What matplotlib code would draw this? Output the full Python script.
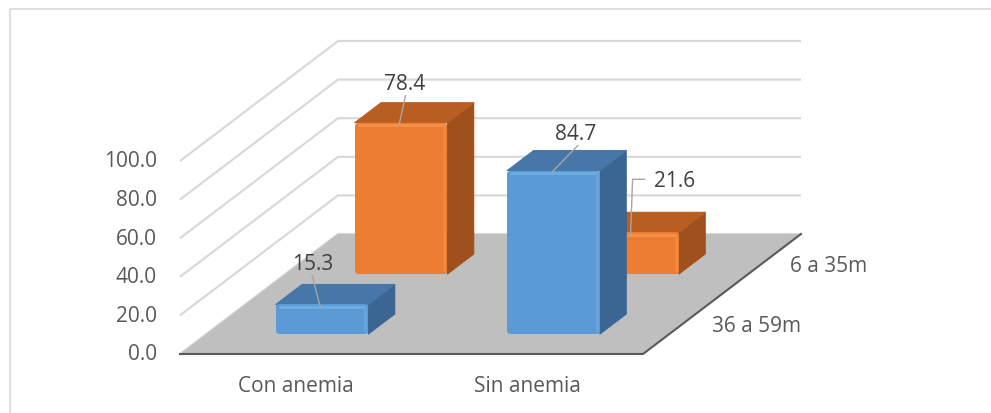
import matplotlib
matplotlib.use("Agg")
import matplotlib.pyplot as plt
from matplotlib.patches import Polygon, Rectangle

# Data
categories = ["Con anemia", "Sin anemia"]
series_names = ["36 a 59m", "6 a 35m"]          # front row, back row
values_36_59 = [15.3, 84.7]
values_6_35 = [78.4, 21.6]
y_ticks = [0, 20, 40, 60, 80, 100]

plt.rcParams["font.family"] = ["Open Sans", "DejaVu Sans"]

W, H = 991, 414
fig = plt.figure(figsize=(W / 100, H / 100), dpi=100)
ax = fig.add_axes([0, 0, 1, 1])
ax.set_xlim(0, W)
ax.set_ylim(H, 0)
ax.axis("off")

# Oblique projection of (category, depth, value) onto the canvas
X0, Y0 = 180.0, 355.0       # front-left corner of the floor
CAT_W = 231.5               # width of one category slot
DX, DY = 158.0, 120.0       # full depth offset
VS = 1.93                   # pixels per value unit


def proj(c, d, v):
    return (X0 + c * CAT_W + d * DX, Y0 - d * DY - v * VS)


TXT = "#595959"
GRID = "#D9D9D9"

# Chart frame
ax.add_patch(Rectangle((10, 10), 1000, 500, fill=False, ec="#D9D9D9", lw=1.2))

ncat = len(categories)
# Wall gridlines
for v in y_ticks:
    p0, p1, p2 = proj(0, 0, v), proj(0, 1, v), proj(ncat, 1, v)
    ax.plot([p0[0], p1[0], p2[0]], [p0[1], p1[1], p2[1]], color=GRID, lw=1.6,
            solid_capstyle="butt", zorder=1)
    ax.text(p0[0] - 23, p0[1], f"{v:.1f}", ha="right", va="center",
            fontsize=15, color=TXT)

# Floor
floor = [proj(0, 0, 0), proj(ncat, 0, 0), proj(ncat, 1, 0), proj(0, 1, 0)]
ax.add_patch(Polygon(floor, closed=True, fc="#BFBFBF", ec="none", zorder=2))
a, b, c_ = proj(0, 0, 0), proj(ncat, 0, 0), proj(ncat, 1, 0)
ax.plot([a[0], b[0], c_[0]], [a[1], b[1], c_[1]], color="#595959", lw=1.5, zorder=3)

# Category and series labels
for i, name in enumerate(categories):
    x, y = proj(i + 0.5, 0, 0)
    ax.text(x, y + 32, name, ha="center", va="center", fontsize=15, color=TXT)
for r, name in enumerate(series_names):
    x, y = proj(ncat, r * 0.5 + 0.25, 0)
    ax.text(x + 29, y + 2, name, ha="left", va="center", fontsize=15, color=TXT)

styles = [
    dict(front="#5B9BD5", top="#4677A8", side="#3B6592", hi="#7AB2E8"),
    dict(front="#ED7D31", top="#B95E22", side="#A0501C", hi="#F79A58"),
]

BAR_W = 0.4
BAR_D = 1 / 6
R = 3.0                      # corner rounding radius in pixels
EDGE_LW = 2 * R * 72 / 100   # stroke width giving that radius


def draw_bar(ci, row, v, st, z):
    x0, x1 = ci + 0.5 - BAR_W / 2, ci + 0.5 + BAR_W / 2
    d0 = row * 0.5 + 0.25 - BAR_D / 2
    d1 = d0 + BAR_D
    front = [proj(x0, d0, 0), proj(x1, d0, 0), proj(x1, d0, v), proj(x0, d0, v)]
    top = [proj(x0, d0, v), proj(x1, d0, v), proj(x1, d1, v), proj(x0, d1, v)]
    side = [proj(x1, d0, 0), proj(x1, d1, 0), proj(x1, d1, v), proj(x1, d0, v)]
    ax.add_patch(Polygon(side, closed=True, fc=st["side"], ec=st["side"],
                         lw=0.8, joinstyle="round", zorder=z))
    ax.add_patch(Polygon(top, closed=True, fc=st["top"], ec=st["top"],
                         lw=0.8, joinstyle="round", zorder=z))
    # rounded front face: inset rectangle stroked with a round join
    (fx0, fyb), (fx1, _), _, (_, fyt) = front
    rounded = [(fx0 + R, fyb - R), (fx1 - R, fyb - R), (fx1 - R, fyt + R),
               (fx0 + R, fyt + R)]
    ax.add_patch(Polygon(rounded, closed=True, fc=st["front"], ec=st["front"],
                         lw=EDGE_LW, joinstyle="round", zorder=z))
    # soft bevel highlights along the front face edges
    ax.plot([fx0 + 4, fx1 - 4], [fyt + 2.5, fyt + 2.5],
            color=st["hi"], lw=2, alpha=0.7, zorder=z + 0.1, solid_capstyle="round")
    ax.plot([fx1 - 3, fx1 - 3], [fyt + 4, fyb - 4],
            color=st["hi"], lw=2, alpha=0.45, zorder=z + 0.1, solid_capstyle="round")
    return proj(ci + 0.5, d0, v)


rows = [values_36_59, values_6_35]
anchors = {}
# back row first so the front row covers it
z = 4
for row in (1, 0):
    for ci in range(ncat):
        anchors[(row, ci)] = draw_bar(ci, row, rows[row][ci], styles[row], z)
        z += 1

# Data labels with leader lines
LEAD = "#A6A6A6"
label_offsets = {(0, 0): (-9, -41), (1, 0): (4, -39), (0, 1): (22, -37)}
for (row, ci), (ox, oy) in label_offsets.items():
    ax_, ay_ = anchors[(row, ci)]
    lx, ly = ax_ + ox, ay_ + oy
    ax.plot([lx + ox * 0.1, ax_ - 2], [ly + 12, ay_ + 2], color=LEAD, lw=1, zorder=20)
    ax.text(lx, ly, f"{rows[row][ci]:.1f}", ha="center", va="center",
            fontsize=15, color="#404040", zorder=21)

# label for the partly hidden back bar, with an elbow leader
ax_, ay_ = anchors[(1, 1)]
ax.plot([ax_ - 2, ax_ + 0, ax_ + 12], [ay_ + 2, ay_ - 53, ay_ - 53], color=LEAD,
        lw=1, zorder=20)
ax.text(ax_ + 21, ay_ - 52, f"{values_6_35[1]:.1f}", ha="left", va="center",
        fontsize=15, color="#404040", zorder=21)

fig.savefig("out.png", dpi=100)
